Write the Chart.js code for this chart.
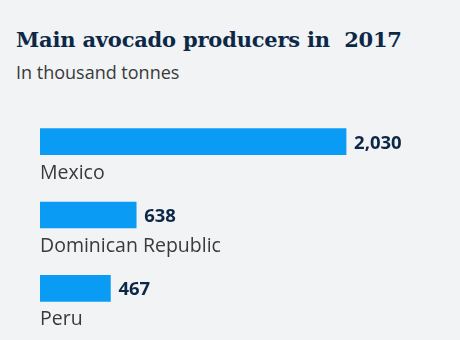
<!DOCTYPE html>
<html>
<head>
<meta charset="utf-8">
<script src="https://cdn.jsdelivr.net/npm/chart.js@4"></script>
<style>
  html, body { margin: 0; padding: 0; background: #f1f3f5; }
  #wrap { position: relative; width: 460px; height: 340px; overflow: hidden; }
  #title { position: absolute; left: 16px; top: 27px; font-family: "DejaVu Serif", serif; font-weight: bold;
    font-size: 21px; color: #0d2847; white-space: pre; letter-spacing: -0.2px; }
  #subtitle { position: absolute; left: 16px; top: 60px; font-family: "Open Sans", sans-serif;
    font-size: 18px; color: #3a3a3a; }
  canvas { position: absolute; left: 0; top: 0; }
</style>
</head>
<body>
<div id="wrap">
  <div id="title">Main avocado producers in  2017</div>
  <div id="subtitle">In thousand tonnes</div>
  <canvas id="chart" width="460" height="340"></canvas>
</div>
<script>
var countries = ['Mexico', 'Dominican Republic', 'Peru'];
var production = [2030, 638, 467];

// names under bars, values right of bars
var barLabels = {
    id: 'barLabels',
    afterDatasetsDraw: function (chart) {
        var ctx = chart.ctx;
        var meta = chart.getDatasetMeta(0);
        ctx.save();
        meta.data.forEach(function (bar, i) {
            var h = bar.height;
            ctx.textBaseline = 'alphabetic';
            ctx.textAlign = 'left';
            ctx.fillStyle = '#0d2847';
            ctx.font = 'bold 18.5px "Open Sans", sans-serif';
            ctx.fillText(production[i].toLocaleString('en-US'), bar.x + 8, bar.y + 7);
            ctx.fillStyle = '#3a3a3a';
            ctx.font = '19.5px "Open Sans", sans-serif';
            ctx.fillText(countries[i], bar.base, bar.y + h / 2 + 24);
        });
        ctx.restore();
    }
};

new Chart(document.getElementById('chart'), {
    type: 'bar',
    data: {
        labels: countries,
        datasets: [{
            data: production,
            backgroundColor: '#0a9cf5',
            barThickness: 26
        }]
    },
    plugins: [barLabels],
    options: {
        indexAxis: 'y',
        responsive: false,
        animation: false,
        layout: { padding: { left: 40, right: 28, top: 105, bottom: 15 } },
        plugins: {
            legend: { display: false },
            tooltip: { enabled: false }
        },
        scales: {
            x: { display: false, min: 0, max: 2600 },
            y: { display: false }
        }
    }
});
</script>
</body>
</html>
